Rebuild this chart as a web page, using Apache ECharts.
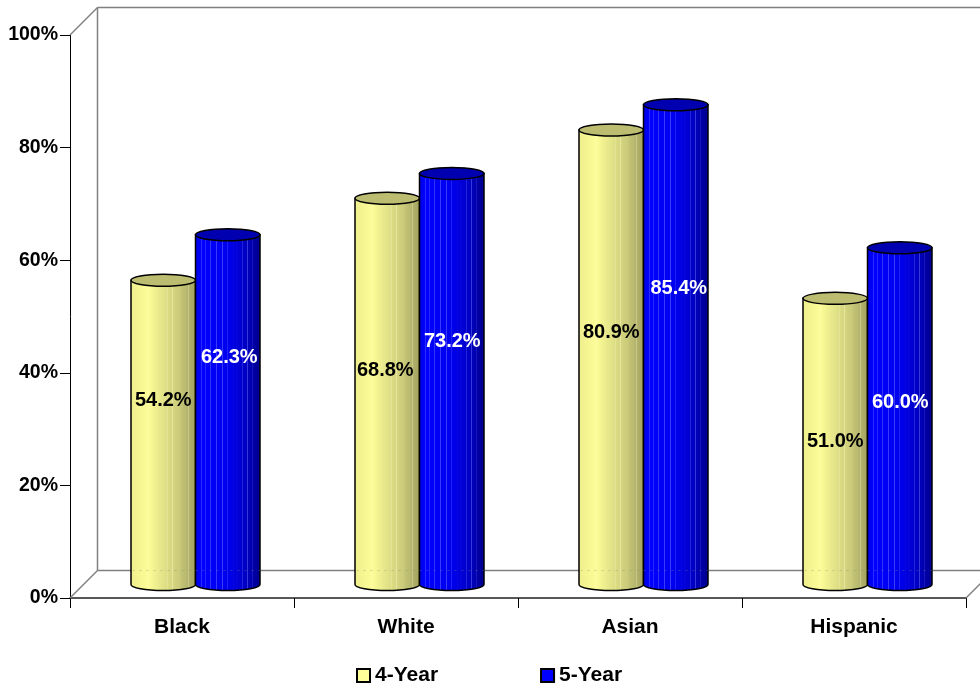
<!DOCTYPE html>
<html><head><meta charset="utf-8">
<style>html,body{margin:0;padding:0;background:#fff}#c{width:980px;height:685px}</style>
<script src="https://cdn.jsdelivr.net/npm/echarts@6/dist/echarts.min.js"></script>
</head><body><div id="c"></div>
<script>
var categories = ['Black', 'White', 'Asian', 'Hispanic'];
var fourYear = [54.2, 68.8, 80.9, 51.0];
var fiveYear = [62.3, 73.2, 85.4, 60.0];
var fourYearLabelAt = [35.1, 40.4, 47.1, 27.8];
var fiveYearLabelAt = [42.7, 45.6, 55.0, 34.7];
var fourYearLabelNudge = [0, -2, 0, 0];
var fiveYearLabelNudge = [1.5, 0.5, 3, 0.5];
var yTicks = [0, 20, 40, 60, 80, 100];

var DEPTH = 13.5, TOP_DEPTH = 12.5, RY = 6, W = 64.5;
var FONT = '"Liberation Sans", Arial, sans-serif';

function lerpColor(a, b, t){
  var r = [];
  for (var k = 0; k < 3; k++) r.push(Math.round(a[k] + (b[k] - a[k]) * t));
  return r;
}
function ramp(anchors, t){
  for (var i = 1; i < anchors.length; i++) {
    if (t <= anchors[i][0]) {
      var p = anchors[i-1], q = anchors[i];
      return lerpColor(p[1], q[1], (t - p[0]) / (q[0] - p[0]));
    }
  }
  return anchors[anchors.length-1][1];
}
function css(c){ return 'rgb(' + c.join(',') + ')'; }
function stripedGradient(anchors, stripes, light, amount){
  var ts = [0], stops = [], hw = 0.008;
  stripes.forEach(function(s){ ts.push(s - hw, s, s + hw); });
  ts.push(1);
  ts.forEach(function(t){
    var c = ramp(anchors, t);
    if (stripes.indexOf(t) >= 0) c = lerpColor(c, light, amount);
    stops.push({offset: t, color: css(c)});
  });
  return {type:'linear', x:0, y:0, x2:1, y2:0, colorStops:stops};
}
var yellowFill = stripedGradient(
  [[0,[238,238,140]],[.1,[255,255,153]],[.25,[255,255,153]],[.5,[226,226,136]],[.7,[208,208,124]],[.85,[184,184,112]],[1,[160,160,94]]],
  [.28,.42,.56,.64,.74,.88], [255,255,220], .4);
var blueFill = stripedGradient(
  [[0,[0,0,225]],[.1,[0,0,255]],[.5,[0,0,238]],[.75,[0,0,200]],[1,[0,0,140]]],
  [.1,.16,.24,.33,.42,.5,.58,.64,.72,.8,.88], [110,110,255], .55);

function cylinder(side, fill, topColor, textColor, labelAt, nudge){
  return function(params, api){
    var i = api.value(0), v = api.value(1);
    var top = api.coord([i, v]), base = api.coord([i, 0]);
    var cx = top[0] + DEPTH + side * W / 2;
    var l = cx - W/2, r = cx + W/2, ty = top[1] - TOP_DEPTH, by = base[1] - DEPTH;
    var lab = api.coord([i, labelAt[i]]);
    return {type:'group', children:[
      {type:'path', shape:{pathData:'M'+l+' '+ty+'L'+l+' '+by+'A'+(W/2)+' '+RY+' 0 0 0 '+r+' '+by+'L'+r+' '+ty+'Z', x:l, y:ty, width:W, height:by-ty+RY},
       style:{fill:fill, stroke:'#000', lineWidth:1.5}},
      {type:'path', shape:{pathData:'M'+l+' '+ty+'A'+(W/2)+' '+RY+' 0 0 1 '+r+' '+ty+'A'+(W/2)+' '+RY+' 0 0 1 '+l+' '+ty+'Z', x:l, y:ty-RY, width:W, height:2*RY},
       style:{fill:topColor, stroke:'#000', lineWidth:1.5}},
      {type:'text', x:cx + nudge[i], y:lab[1], style:{text:v.toFixed(1)+'%', fill:textColor, font:'bold 20px '+FONT, textAlign:'center', textVerticalAlign:'middle'}}
    ]};
  };
}

function walls(params, api){
  var c = params.coordSys, x0=c.x, x1=c.x+c.width, y0=c.y, y1=c.y+c.height, d=27.5;
  var gs={stroke:'#808080', lineWidth:1.5, fill:'none'};
  function ln(a,b,e,f){return {type:'line', shape:{x1:a,y1:b,x2:e,y2:f}, style:gs};}
  return {type:'group', children:[
    ln(x0+d,y0-d,x1+d,y0-d), ln(x0+d,y0-d,x0+d,y1-d), ln(x0+d,y1-d,x1+d,y1-d),
    ln(x0,y0,x0+d,y0-d), ln(x0,y1,x0+d,y1-d), ln(x1,y1,x1+d,y1-d)
  ]};
}
function floorShowThrough(params, api){
  var c = params.coordSys, y1=c.y+c.height, d=27.5;
  return {type:'line', shape:{x1:c.x+d,y1:y1-d,x2:c.x+c.width+d,y2:y1-d},
    style:{stroke:'rgba(128,128,128,0.35)', lineWidth:1, lineDash:[2,5], fill:'none'}};
}

var chart = echarts.init(document.getElementById('c'), null, {renderer:'canvas'});
chart.setOption({
  animation:false,
  backgroundColor:'#fff',
  grid:{left:70, right:14, top:35, bottom:87},
  legend:{left:356, top:665, padding:0, itemWidth:13, itemHeight:13, itemGap:102, icon:'rect',
    textStyle:{fontFamily:FONT, fontWeight:'bold', fontSize:21, color:'#000'},
    data:['4-Year','5-Year']},
  xAxis:{type:'category', data:categories, boundaryGap:true,
    axisLine:{lineStyle:{color:'#222', width:1.5}},
    axisTick:{show:true, alignWithLabel:false, interval:0, length:10, lineStyle:{color:'#000', width:1}},
    axisLabel:{fontFamily:FONT, fontWeight:'bold', fontSize:21, color:'#000', margin:19}},
  yAxis:{type:'value', min:yTicks[0], max:yTicks[yTicks.length-1], interval:20, splitLine:{show:false},
    axisLine:{show:true, lineStyle:{color:'#000', width:1}},
    axisTick:{show:true, length:10, lineStyle:{color:'#000', width:1}},
    axisLabel:{formatter:'{value}%', fontFamily:FONT, fontWeight:'bold', fontSize:19.5, color:'#000', margin:12, padding:[3,0,0,0]}},
  series:[
    {type:'custom', name:'walls', silent:true, z:1, renderItem:walls, data:[[0,0]], encode:{x:0,y:1}, clip:false},
    {type:'custom', name:'4-Year', z:2, clip:false, renderItem:cylinder(-1, yellowFill, '#BDBD72', '#000', fourYearLabelAt, fourYearLabelNudge),
     itemStyle:{color:'#FFFF99', borderColor:'#000', borderWidth:1.5}, encode:{x:0,y:1},
     data:fourYear.map(function(v,i){return [i,v];})},
    {type:'custom', name:'5-Year', z:3, clip:false, renderItem:cylinder(1, blueFill, '#0000B0', '#fff', fiveYearLabelAt, fiveYearLabelNudge),
     itemStyle:{color:'#0000FF', borderColor:'#000', borderWidth:1.5}, encode:{x:0,y:1},
     data:fiveYear.map(function(v,i){return [i,v];})},
    {type:'custom', name:'floor', silent:true, z:4, renderItem:floorShowThrough, data:[[0,0]], encode:{x:0,y:1}, clip:false}
  ]
});
</script></body></html>
